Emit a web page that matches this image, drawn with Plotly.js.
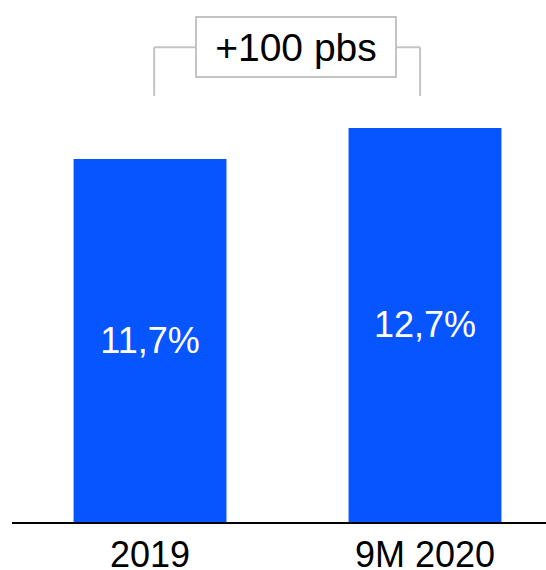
<!DOCTYPE html>
<html>
<head>
<meta charset="utf-8">
<script src="https://cdn.plot.ly/plotly-3.0.1.min.js"></script>
<style>html,body{margin:0;padding:0;background:#fff;}#chart{width:546px;height:570px;}</style>
</head>
<body>
<div id="chart"></div>
<script>
var categories = ["2019", "9M 2020"];
var values = [11.7, 12.7];
var valueLabels = ["11,7%", "12,7%"];
var deltaLabel = "+100 pbs";

var barColor = "#0755FF";
var bracketColor = "#C4C4C4";

var trace = {
  type: "bar",
  x: [0, 1],
  y: values,
  text: valueLabels,
  textposition: "inside",
  insidetextanchor: "middle",
  textfont: {family: "Liberation Sans, Arial, sans-serif", size: 36, color: "#FFFFFF"},
  marker: {color: barColor},
  hoverinfo: "none",
  cliponaxis: false
};

var yTop = 15.3, yLeg = 13.73;
var layout = {
  width: 546, height: 570,
  margin: {l: 12, r: 0, t: 10, b: 48},
  paper_bgcolor: "#fff", plot_bgcolor: "#fff",
  showlegend: false,
  bargap: 0.444,
  font: {family: "Liberation Sans, Arial, sans-serif", color: "#000"},
  xaxis: {
    range: [-0.502, 1.44],
    tickmode: "array", tickvals: [0, 1], ticktext: categories,
    tickfont: {size: 36, color: "#000"},
    showline: true, linecolor: "#000", linewidth: 2,
    ticks: "", ticklen: 0,
    showgrid: false, zeroline: false, fixedrange: true
  },
  yaxis: {
    range: [0, 16.5], visible: false, showgrid: false, zeroline: false, fixedrange: true
  },
  shapes: [
    {type: "line", xref: "x", yref: "y", x0: 0.015, x1: 0.015, y0: yLeg, y1: yTop, line: {color: bracketColor, width: 2}},
    {type: "line", xref: "x", yref: "y", x0: 0.015, x1: 0.35, y0: yTop, y1: yTop, line: {color: bracketColor, width: 2}},
    {type: "line", xref: "x", yref: "y", x0: 0.7, x1: 0.982, y0: yTop, y1: yTop, line: {color: bracketColor, width: 2}},
    {type: "line", xref: "x", yref: "y", x0: 0.982, x1: 0.982, y0: yLeg, y1: yTop, line: {color: bracketColor, width: 2}}
  ],
  annotations: [
    {xref: "x", yref: "y", x: 0.531, y: yTop, text: deltaLabel, showarrow: false,
     font: {size: 39, color: "#000"}, bgcolor: "#fff", bordercolor: bracketColor, borderwidth: 2,
     width: 196, height: 56, xanchor: "center", yanchor: "middle"}
  ]
};

Plotly.newPlot("chart", [trace], layout, {displayModeBar: false, staticPlot: true});
</script>
</body>
</html>
